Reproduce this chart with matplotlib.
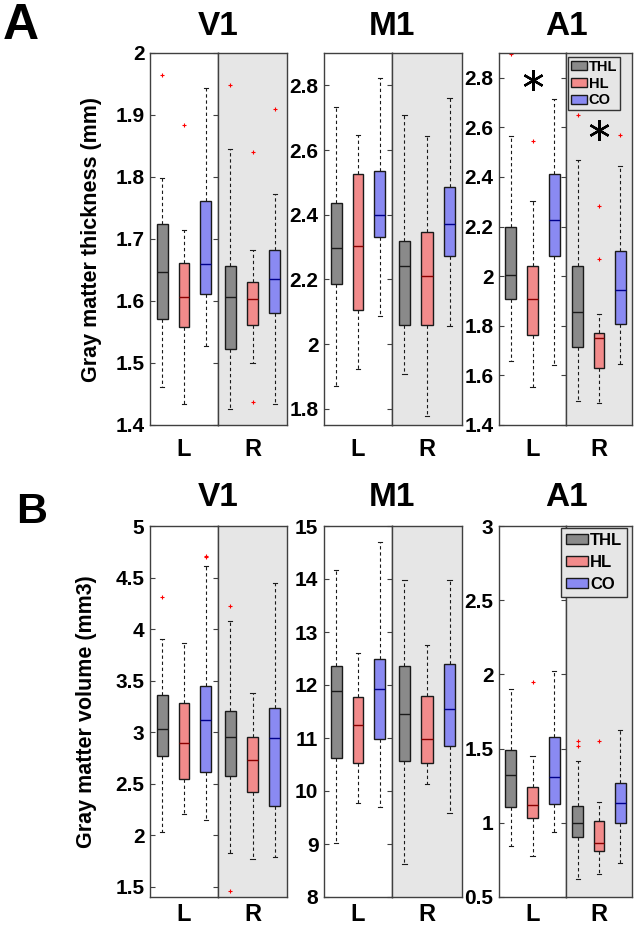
# figura.py
# cajas de grosor y volumen de materia gris por region (V1, M1, A1) y hemisferio

import matplotlib
matplotlib.use("Agg")
import matplotlib.pyplot as plt
from matplotlib.patches import Patch
from matplotlib.ticker import FuncFormatter

plt.rcParams["font.family"] = ["Liberation Sans", "DejaVu Sans"]
plt.rcParams["font.weight"] = "bold"

grupos = ["THL", "HL", "CO"]
colores = ["#8a8a8a", "#f28b8b", "#8a8af2"]
colores_mediana = ["#1a1a1a", "#8b0000", "#00008b"]
regiones = ["V1", "M1", "A1"]
hemisferios = ["L", "R"]

# cada fila: (bigote bajo, q1, mediana, q3, bigote alto)
# orden: L THL, L HL, L CO, R THL, R HL, R CO
grosor_v1 = [(1.461, 1.571, 1.646, 1.724, 1.799),
             (1.434, 1.558, 1.607, 1.662, 1.714),
             (1.528, 1.612, 1.660, 1.761, 1.943),
             (1.426, 1.523, 1.606, 1.656, 1.845),
             (1.500, 1.562, 1.604, 1.631, 1.682),
             (1.434, 1.580, 1.636, 1.682, 1.773)]
grosor_v1_out = [[1.965], [1.884], [], [1.948], [1.841, 1.437], [1.909]]

grosor_m1 = [(1.870, 2.186, 2.296, 2.436, 2.734),
             (1.924, 2.105, 2.304, 2.527, 2.645),
             (2.086, 2.331, 2.398, 2.534, 2.823),
             (1.909, 2.059, 2.240, 2.319, 2.707),
             (1.779, 2.059, 2.211, 2.346, 2.643),
             (2.055, 2.273, 2.371, 2.486, 2.762)]
grosor_m1_out = [[], [], [], [], [], []]

grosor_a1 = [(1.657, 1.910, 2.005, 2.199, 2.567),
             (1.553, 1.761, 1.908, 2.040, 2.303),
             (1.640, 2.080, 2.226, 2.413, 2.716),
             (1.495, 1.715, 1.856, 2.040, 2.467),
             (1.488, 1.630, 1.752, 1.770, 1.847),
             (1.646, 1.808, 1.944, 2.101, 2.443)]
grosor_a1_out = [[2.895], [2.547], [], [2.650], [2.285, 2.071], [2.571]]

volumen_v1 = [(2.029, 2.770, 3.026, 3.360, 3.903),
              (2.208, 2.549, 2.896, 3.286, 3.864),
              (2.143, 2.614, 3.117, 3.448, 4.610),
              (1.828, 2.571, 2.955, 3.208, 4.075),
              (1.769, 2.419, 2.734, 2.955, 3.383),
              (1.786, 2.282, 2.945, 3.237, 4.448)]
volumen_v1_out = [[4.308], [], [4.708, 4.695], [4.227, 1.455], [], []]

volumen_m1 = [(9.010, 10.624, 11.879, 12.358, 14.168),
              (9.767, 10.524, 11.236, 11.772, 12.610),
              (9.691, 10.984, 11.929, 12.484, 14.704),
              (8.620, 10.574, 11.456, 12.352, 13.990),
              (10.132, 10.520, 10.984, 11.790, 12.762),
              (9.584, 10.857, 11.538, 12.390, 13.990)]
volumen_m1_out = [[], [], [], [], [], []]

volumen_a1 = [(0.845, 1.104, 1.324, 1.491, 1.899),
              (0.773, 1.032, 1.119, 1.239, 1.448),
              (0.935, 1.126, 1.311, 1.577, 2.020),
              (0.619, 0.905, 1.002, 1.115, 1.419),
              (0.653, 0.811, 0.863, 1.009, 1.142),
              (0.727, 1.002, 1.131, 1.266, 1.628)]
volumen_a1_out = [[], [1.948], [], [1.554, 1.520], [1.550], []]

# limites y marcas del eje y de cada panel
lim_grosor = [(1.4, 2.0), (1.75, 2.9), (1.4, 2.9)]
ticks_grosor = [[1.4, 1.5, 1.6, 1.7, 1.8, 1.9, 2.0],
                [1.8, 2.0, 2.2, 2.4, 2.6, 2.8],
                [1.4, 1.6, 1.8, 2.0, 2.2, 2.4, 2.6, 2.8]]
lim_volumen = [(1.4, 5.0), (8, 15), (0.5, 3.0)]
ticks_volumen = [[1.5, 2, 2.5, 3, 3.5, 4, 4.5, 5],
                 [8, 9, 10, 11, 12, 13, 14, 15],
                 [0.5, 1, 1.5, 2, 2.5, 3]]

# asteriscos de significancia en A1 (grosor): (x, y) en cada hemisferio
asterisco_x = [2, 2]
asterisco_y = [2.79, 2.59]

ANCHO, ALTO = 637, 934
fig = plt.figure(figsize=(ANCHO / 100, ALTO / 100), dpi=100)

# columnas en pixeles: borde izquierdo, division L/R, borde derecho
col_izq = [150, 324, 499]
col_div = [218, 392, 566]
col_der = [287, 462, 632]


def crear_ejes(px_izq, px_der, px_arriba, px_abajo):
    return fig.add_axes([px_izq / ANCHO, 1 - px_abajo / ALTO,
                         (px_der - px_izq) / ANCHO, (px_abajo - px_arriba) / ALTO])


def dibujar_cajas(ax, filas, fuera):
    for i, ((lo, q1, med, q3, hi), fl) in enumerate(zip(filas, fuera)):
        st = dict(whislo=lo, q1=q1, med=med, q3=q3, whishi=hi, fliers=fl)
        ax.bxp([st], positions=[i + 1], widths=0.5, patch_artist=True,
               boxprops=dict(facecolor=colores[i], edgecolor="#1a1a1a", linewidth=1.0),
               medianprops=dict(color=colores_mediana[i], linewidth=1.0),
               whiskerprops=dict(color="#1a1a1a", linestyle=(0, (3, 2.5)), linewidth=0.8),
               capprops=dict(color="#1a1a1a", linewidth=0.8), capwidths=0.2,
               flierprops=dict(marker="+", markeredgecolor="red", markersize=3.5,
                               markeredgewidth=0.8))


def fmt(v, _):
    return f"{v:g}"


def dibujar_fila(datos, fueras, limites, ticks, px_arriba, px_abajo, pad_lr, fila):
    pares = []
    for k in range(3):
        ax_l = crear_ejes(col_izq[k], col_div[k], px_arriba, px_abajo)
        ax_r = crear_ejes(col_div[k], col_der[k], px_arriba, px_abajo)
        for j, ax in enumerate((ax_l, ax_r)):
            dibujar_cajas(ax, datos[k][3 * j:3 * j + 3], fueras[k][3 * j:3 * j + 3])
            ax.set_xlim(0.45, 3.55)
            ax.set_ylim(*limites[k])
            ax.set_xticks([2])
            ax.set_xticklabels([hemisferios[j]], fontsize=17, fontweight="bold")
            ax.tick_params(axis="x", length=0, pad=pad_lr)
            for sp in ax.spines.values():
                sp.set_color("#404040")
                sp.set_linewidth(1.0)
        ax_r.set_facecolor("#e6e6e6")
        ax_r.set_yticks([])
        ax_l.set_yticks(ticks[k])
        ax_l.yaxis.set_major_formatter(FuncFormatter(fmt))
        ax_l.tick_params(axis="y", direction="in", left=True, right=True, length=3.5,
                         width=0.8, color="#404040", labelsize=15, pad=4)
        for lab in ax_l.get_yticklabels():
            lab.set_fontweight("bold")
        # titulo de la region centrado en la division L/R
        fig.text(col_div[k] / ANCHO, 1 - (px_arriba - 11 - 2 * fila) / ALTO, regiones[k],
                 ha="center", va="bottom", fontsize=24, fontweight="bold")
        pares.append((ax_l, ax_r))
    return pares


fila_a = dibujar_fila([grosor_v1, grosor_m1, grosor_a1],
                      [grosor_v1_out, grosor_m1_out, grosor_a1_out],
                      lim_grosor, ticks_grosor, 53, 425, 9, 0)
fila_b = dibujar_fila([volumen_v1, volumen_m1, volumen_a1],
                      [volumen_v1_out, volumen_m1_out, volumen_a1_out],
                      lim_volumen, ticks_volumen, 526, 897, 4, 1)

fila_a[0][0].set_ylabel("Gray matter thickness (mm)", fontsize=15.5, fontweight="bold")
fila_a[0][0].yaxis.set_label_coords(-0.70, 0.5)
fila_b[0][0].set_ylabel("Gray matter volume (mm3)", fontsize=15.5, fontweight="bold")
fila_b[0][0].yaxis.set_label_coords(-0.78, 0.5)

# asteriscos en A1 grosor
for j in range(2):
    fila_a[2][j].plot(asterisco_x[j], asterisco_y[j], marker=(6, 2, 0), markersize=15,
                      color="black", markeredgewidth=1.7, linestyle="none")

# leyendas
manijas = [Patch(facecolor=c, edgecolor="#1a1a1a", linewidth=1.0) for c in colores]
ley_a = fila_a[2][1].legend(manijas, grupos, loc="upper right", bbox_to_anchor=(0.82, 0.99),
                            borderaxespad=0, handlelength=1.1, handleheight=0.6,
                            handletextpad=0.12, labelspacing=0.2, borderpad=0.2,
                            fancybox=False, framealpha=1, prop=dict(weight="bold", size=10.5))
ley_b = fila_b[2][1].legend(manijas, grupos, loc="upper right", bbox_to_anchor=(0.93, 0.995),
                            borderaxespad=0, handlelength=1.3, handleheight=0.6,
                            handletextpad=0.12, labelspacing=0.42, borderpad=0.3,
                            fancybox=False, framealpha=1, prop=dict(weight="bold", size=12))
for ley in (ley_a, ley_b):
    ley.get_frame().set_edgecolor("#333333")
    ley.get_frame().set_facecolor("#e6e6e6")
    ley.get_frame().set_linewidth(1.0)

# letras de panel
fig.text(3 / ANCHO, 1 - 3 / ALTO, "A", ha="left", va="top", fontsize=36, fontweight="bold")
fig.text(16 / ANCHO, 1 - 492 / ALTO, "B", ha="left", va="top", fontsize=31, fontweight="bold")

fig.savefig("out.png", dpi=100, facecolor="white")
